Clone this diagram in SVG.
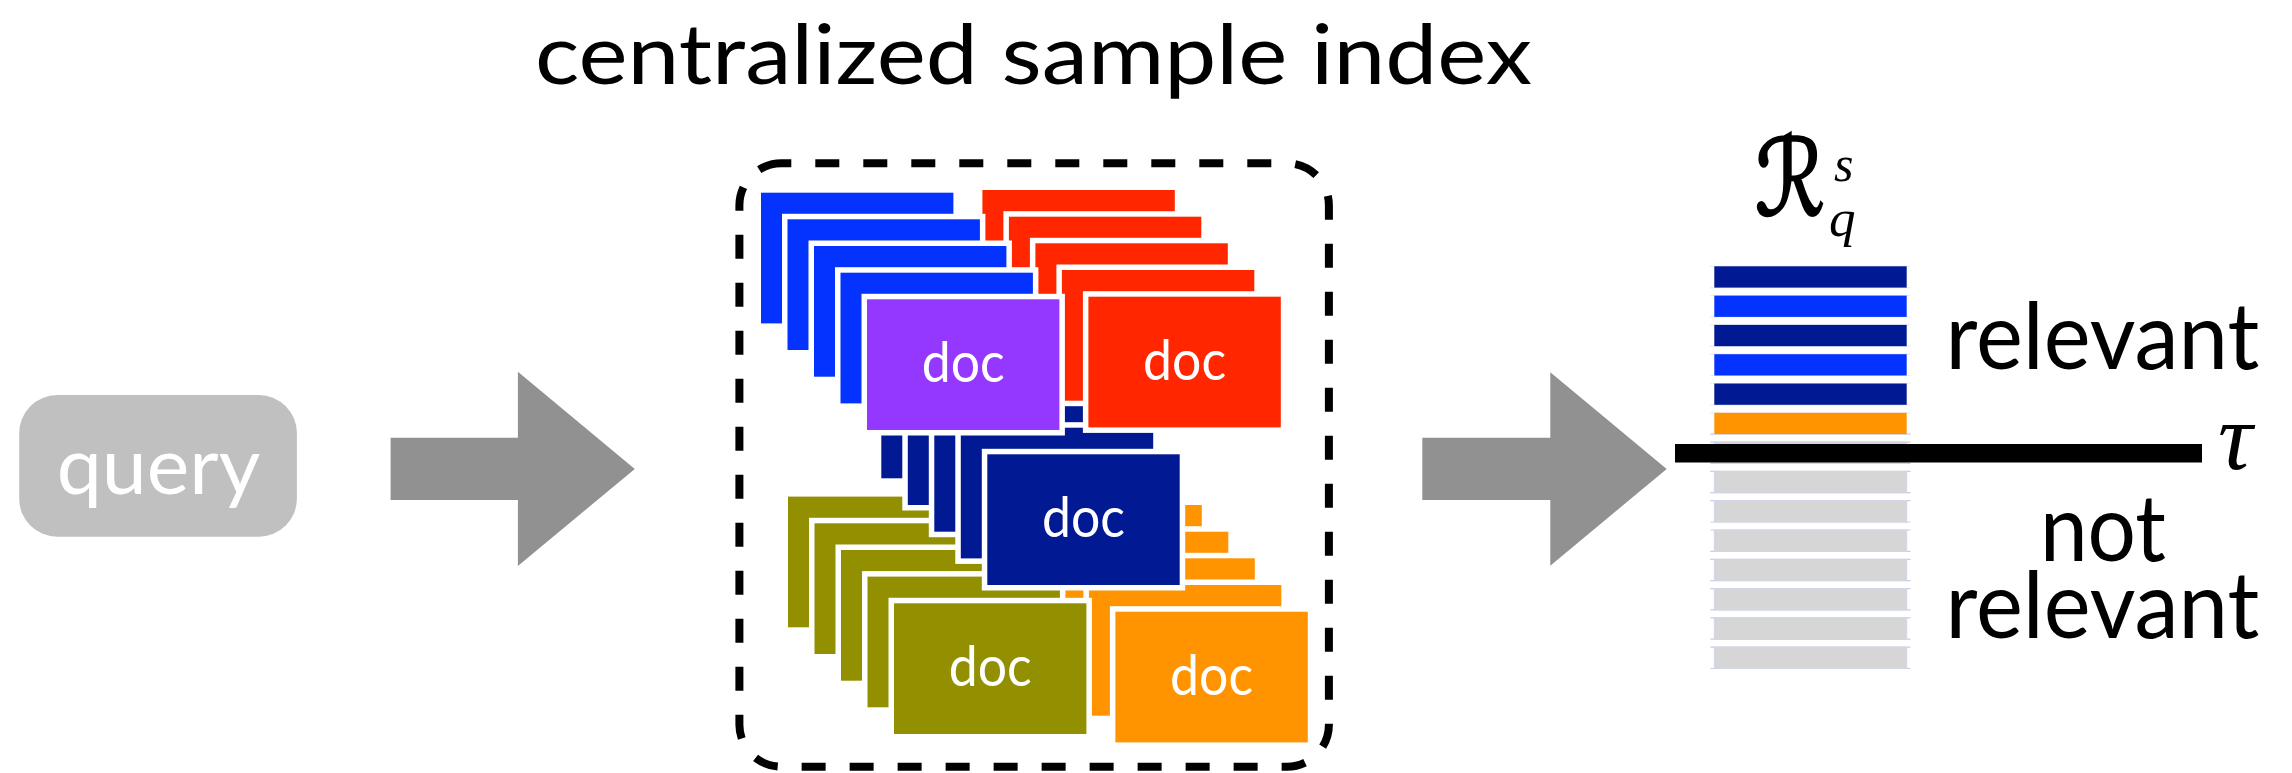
<svg xmlns="http://www.w3.org/2000/svg" width="2292" height="773" viewBox="0 0 2292 773">
  <style>
    .lbl { font-family: "Lato", "Open Sans", "Liberation Sans", sans-serif; }
    .doc { stroke: #ffffff; stroke-width: 11; paint-order: stroke; stroke-linejoin: miter; }
    .blue { fill: #0433FF; }
    .red { fill: #FF2600; }
    .purple { fill: #9437FF; }
    .navy { fill: #011993; }
    .olive { fill: #929000; }
    .orange { fill: #FF9300; }
    .doctext { font-family: "Lato", "Open Sans", "Liberation Sans", sans-serif; font-size: 56px; fill: #ffffff; }
    .bar { stroke: #d2d6ea; stroke-width: 1; }
    .edge { stroke: #c9cde3; stroke-width: 1.2; }
    .math { font-family: "Liberation Serif", "DejaVu Serif", serif; font-style: italic; fill: #000000; }
    .arrow { fill: #919191; }
  </style>

  <!-- title -->
  <text id="title" class="lbl" x="535" y="84" font-size="84" textLength="997" lengthAdjust="spacingAndGlyphs" fill="#000000">centralized sample index</text>

  <!-- query node -->
  <g id="query">
    <rect x="19.2" y="395" width="277.7" height="141.7" rx="38" ry="38" fill="#C0C0C0"/>
    <text class="lbl" x="56.7" y="494" font-size="80" textLength="203.6" lengthAdjust="spacingAndGlyphs" fill="#ffffff">query</text>
  </g>

  <!-- sample index: dashed container with stacked documents -->
  <g id="sample-index">
    <rect x="739.4" y="163.3" width="589.5" height="603.4" rx="42" ry="42" fill="none" stroke="#000000" stroke-width="8" stroke-dasharray="24 24" stroke-dashoffset="14.1"/>

    <!-- orange stack -->
    <g id="stack-orange">
      <rect class="doc orange" x="1009.4" y="505" width="192.4" height="130.7"/>
      <rect class="doc orange" x="1035.9" y="531.7" width="192.4" height="130.7"/>
      <rect class="doc orange" x="1062.4" y="558.3" width="192.4" height="130.7"/>
      <rect class="doc orange" x="1088.9" y="585" width="192.4" height="130.7"/>
      <rect class="doc orange" x="1115.4" y="611.7" width="192.4" height="130.7"/>
      <text class="doctext" x="1170.1" y="694.7" textLength="83" lengthAdjust="spacingAndGlyphs">doc</text>
    </g>

    <!-- olive stack -->
    <g id="stack-olive">
      <rect class="doc olive" x="788" y="496.6" width="192.4" height="130.7"/>
      <rect class="doc olive" x="814.5" y="523.3" width="192.4" height="130.7"/>
      <rect class="doc olive" x="841" y="550" width="192.4" height="130.7"/>
      <rect class="doc olive" x="867.5" y="576.6" width="192.4" height="130.7"/>
      <rect class="doc olive" x="894" y="603.3" width="192.4" height="130.7"/>
      <text class="doctext" x="948.7" y="686.3" textLength="83" lengthAdjust="spacingAndGlyphs">doc</text>
    </g>

    <!-- navy stack -->
    <g id="stack-navy">
      <rect class="doc navy" x="881.3" y="347.6" width="192.4" height="130.7"/>
      <rect class="doc navy" x="907.8" y="374.3" width="192.4" height="130.7"/>
      <rect class="doc navy" x="934.3" y="401" width="192.4" height="130.7"/>
      <rect class="doc navy" x="960.8" y="427.7" width="192.4" height="130.7"/>
      <rect class="doc navy" x="987.3" y="454.3" width="192.4" height="130.7"/>
      <text class="doctext" x="1042" y="537.3" textLength="83" lengthAdjust="spacingAndGlyphs">doc</text>
    </g>

    <!-- red stack -->
    <g id="stack-red">
      <rect class="doc red" x="982.4" y="190" width="192.4" height="130.7"/>
      <rect class="doc red" x="1008.9" y="216.7" width="192.4" height="130.7"/>
      <rect class="doc red" x="1035.4" y="243.3" width="192.4" height="130.7"/>
      <rect class="doc red" x="1061.9" y="270" width="192.4" height="130.7"/>
      <rect class="doc red" x="1088.4" y="296.7" width="192.4" height="130.7"/>
      <text class="doctext" x="1143.1" y="380" textLength="83" lengthAdjust="spacingAndGlyphs">doc</text>
    </g>

    <!-- blue stack, purple on top -->
    <g id="stack-blue">
      <rect class="doc blue" x="761" y="192.7" width="192.4" height="130.7"/>
      <rect class="doc blue" x="787.5" y="219.3" width="192.4" height="130.7"/>
      <rect class="doc blue" x="814" y="246" width="192.4" height="130.7"/>
      <rect class="doc blue" x="840.5" y="272.7" width="192.4" height="130.7"/>
      <rect class="doc purple" x="867" y="299.3" width="192.4" height="130.7"/>
      <text class="doctext" x="921.7" y="382.3" textLength="83" lengthAdjust="spacingAndGlyphs">doc</text>
    </g>
  </g>

  <!-- ranked result list -->
  <g id="ranked-list">
    <!-- result-set symbol with superscript s and subscript q -->
    <text fill="#000000"><tspan x="1755" y="215" font-size="106" font-family="DejaVu Serif, DejaVu Sans, serif" stroke="#000000" stroke-width="2.5" textLength="70" lengthAdjust="spacingAndGlyphs">ℛ</tspan><tspan class="math" x="1834" y="181" font-size="50">s</tspan><tspan class="math" x="1829" y="236" font-size="53">q</tspan></text>

    <g id="bar-edges">
      <line class="edge" x1="1710.4" y1="266.3" x2="1910.5" y2="266.3" opacity="0.35"/>
      <line class="edge" x1="1710.4" y1="287.6" x2="1910.5" y2="287.6" opacity="0.35"/>
      <line class="edge" x1="1710.4" y1="295.6" x2="1910.5" y2="295.6" opacity="0.35"/>
      <line class="edge" x1="1710.4" y1="316.9" x2="1910.5" y2="316.9" opacity="0.35"/>
      <line class="edge" x1="1710.4" y1="324.9" x2="1910.5" y2="324.9" opacity="0.35"/>
      <line class="edge" x1="1710.4" y1="346.2" x2="1910.5" y2="346.2" opacity="0.35"/>
      <line class="edge" x1="1710.4" y1="354.2" x2="1910.5" y2="354.2" opacity="0.35"/>
      <line class="edge" x1="1710.4" y1="375.5" x2="1910.5" y2="375.5" opacity="0.35"/>
      <line class="edge" x1="1710.4" y1="383.5" x2="1910.5" y2="383.5" opacity="0.35"/>
      <line class="edge" x1="1710.4" y1="404.8" x2="1910.5" y2="404.8" opacity="0.35"/>
      <line class="edge" x1="1710.4" y1="412.8" x2="1910.5" y2="412.8" opacity="0.35"/>
      <line class="edge" x1="1710.4" y1="434.1" x2="1910.5" y2="434.1"/>
      <line class="edge" x1="1710.4" y1="442.1" x2="1910.5" y2="442.1"/>
      <line class="edge" x1="1710.4" y1="463.4" x2="1910.5" y2="463.4"/>
      <line class="edge" x1="1710.4" y1="471.4" x2="1910.5" y2="471.4"/>
      <line class="edge" x1="1710.4" y1="492.7" x2="1910.5" y2="492.7"/>
      <line class="edge" x1="1710.4" y1="500.7" x2="1910.5" y2="500.7"/>
      <line class="edge" x1="1710.4" y1="522" x2="1910.5" y2="522"/>
      <line class="edge" x1="1710.4" y1="530" x2="1910.5" y2="530"/>
      <line class="edge" x1="1710.4" y1="551.3" x2="1910.5" y2="551.3"/>
      <line class="edge" x1="1710.4" y1="559.3" x2="1910.5" y2="559.3"/>
      <line class="edge" x1="1710.4" y1="580.6" x2="1910.5" y2="580.6"/>
      <line class="edge" x1="1710.4" y1="588.6" x2="1910.5" y2="588.6"/>
      <line class="edge" x1="1710.4" y1="609.9" x2="1910.5" y2="609.9"/>
      <line class="edge" x1="1710.4" y1="617.9" x2="1910.5" y2="617.9"/>
      <line class="edge" x1="1710.4" y1="639.2" x2="1910.5" y2="639.2"/>
      <line class="edge" x1="1710.4" y1="647.2" x2="1910.5" y2="647.2"/>
      <line class="edge" x1="1710.4" y1="668.5" x2="1910.5" y2="668.5"/>
    </g>

    <rect class="navy" x="1714.3" y="266.3" width="192.4" height="21.3"/>
    <rect class="blue" x="1714.3" y="295.6" width="192.4" height="21.3"/>
    <rect class="navy" x="1714.3" y="324.9" width="192.4" height="21.3"/>
    <rect class="blue" x="1714.3" y="354.2" width="192.4" height="21.3"/>
    <rect class="navy" x="1714.3" y="383.5" width="192.4" height="21.3"/>
    <rect class="orange" x="1714.3" y="412.8" width="192.4" height="21.3"/>
    <rect class="bar" x="1714.3" y="442.1" width="192.4" height="21.3" fill="#D6D6D6"/>
    <rect class="bar" x="1714.3" y="471.4" width="192.4" height="21.3" fill="#D6D6D6"/>
    <rect class="bar" x="1714.3" y="500.7" width="192.4" height="21.3" fill="#D6D6D6"/>
    <rect class="bar" x="1714.3" y="530" width="192.4" height="21.3" fill="#D6D6D6"/>
    <rect class="bar" x="1714.3" y="559.3" width="192.4" height="21.3" fill="#D6D6D6"/>
    <rect class="bar" x="1714.3" y="588.6" width="192.4" height="21.3" fill="#D6D6D6"/>
    <rect class="bar" x="1714.3" y="617.9" width="192.4" height="21.3" fill="#D6D6D6"/>
    <rect class="bar" x="1714.3" y="647.2" width="192.4" height="21.3" fill="#D6D6D6"/>
  </g>

  <!-- relevance threshold -->
  <g id="threshold">
    <rect x="1675" y="444" width="527" height="18.5" fill="#000000"/>
    <text class="math" x="2218" y="469" font-size="96">τ</text>
  </g>

  <g id="labels">
    <text class="lbl" x="1945.4" y="369" font-size="94" textLength="314" lengthAdjust="spacingAndGlyphs" fill="#000000">relevant</text>
    <text class="lbl" font-size="94" fill="#000000"><tspan x="2039.9" y="561" textLength="126" lengthAdjust="spacingAndGlyphs">not</tspan><tspan x="1945.4" y="637.7" textLength="314" lengthAdjust="spacingAndGlyphs">relevant</tspan></text>
  </g>

  <!-- connectors -->
  <g id="connectors">
    <polygon class="arrow" points="390.6,437.7 517.9,437.7 517.9,371.7 634.8,468.9 517.9,566 517.9,500 390.6,500"/>
    <polygon class="arrow" points="1422.3,437.7 1550.3,437.7 1550.3,372.3 1666.7,468.9 1550.3,565.7 1550.3,500 1422.3,500"/>
  </g>
</svg>
